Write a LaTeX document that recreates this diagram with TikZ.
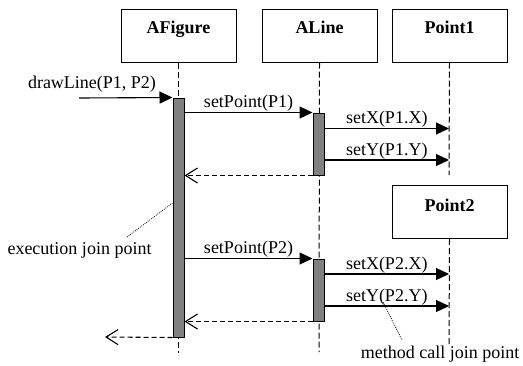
\documentclass[tikz,border=0pt]{standalone}
\usepackage{fontspec}
\setmainfont{Liberation Serif}
\usetikzlibrary{arrows.meta}
\begin{document}
\begin{tikzpicture}[x=1bp,y=-1bp,
  font=\fontsize{18bp}{20bp}\selectfont,
  objbox/.style={draw,line width=1bp,minimum width=115bp,minimum height=53bp,inner sep=0},
  objname/.style={font=\fontsize{18bp}{20bp}\selectfont\bfseries,anchor=base,inner sep=0},
  lifeline/.style={line width=1bp,dash pattern=on 6bp off 3bp},
  activation/.style={draw,fill=black!50,line width=1bp,minimum width=11bp,inner sep=0},
  call/.style={line width=1.1bp,-{Triangle[length=13bp,width=12bp]}},
  reply/.style={line width=1.1bp,dash pattern=on 5bp off 3bp,-{Straight Barb[length=12bp,width=15bp,line width=1.1bp]}},
  msg/.style={above,inner sep=0.6bp},
  note/.style={line width=0.7bp,dash pattern=on 0.9bp off 1.1bp}
]
\useasboundingbox (0,0) rectangle (523,365);

% object boxes
\node[objbox] (fig) at (178.5,35.5) {};
\node[objbox] (line) at (319.5,35.5) {};
\node[objbox] (pta) at (449.5,35.5) {};
\node[objbox] (ptb) at (449.5,212) {};
\node[objname] (figname) at (178.5,33.5) {AFigure};
\node[objname] (linename) at (319.5,33.5) {ALine};
\node[objname] (ptaname) at (449.5,33.5) {Point1};
\node[objname] (ptbname) at (449.5,211.5) {Point2};

% lifeline ends
\coordinate (figend) at (178.5,353);
\coordinate (lineend) at (319,352);
\coordinate (ptaend) at (449,175);
\coordinate (ptbend) at (449,347);
\draw[lifeline] (fig.south) -- (figend);
\draw[lifeline] (line.south) -- (lineend);
\draw[lifeline] (pta.south) -- (ptaend);
\draw[lifeline] (ptb.south) -- (ptbend);

% activation bars
\node[activation,minimum height=239bp] (actA) at (178.5,217.5) {};
\node[activation,minimum height=62bp] (actB) at (318.5,144) {};
\node[activation,minimum height=62bp] (actC) at (318.5,290) {};

% incoming call
\coordinate (caller) at (79,98);
\draw[call] (caller) -- (actA.north west);
\node[inner sep=0,anchor=base] (drawlbl) at (92,88.5) {drawLine(P1, P2)};

% first point
\draw[call] (actA.east |- actB.north west) -- node[msg] {setPoint(P1)} (actB.north west);
\coordinate (sx1) at (449,128.5);
\coordinate (sy1) at (449,160);
\draw[call] (actB.east |- sx1) -- node[msg] {setX(P1.X)} (sx1);
\draw[call] (actB.east |- sy1) -- node[msg] {setY(P1.Y)} (sy1);
\draw[reply] (actB.south west) -- (actA.east |- actB.south west);

% second point
\draw[call] (actA.east |- actC.north west) -- node[msg] {setPoint(P2)} (actC.north west);
\coordinate (sx2) at (449,274);
\coordinate (sy2) at (449,306);
\draw[call] (actC.east |- sx2) -- node[msg] {setX(P2.X)} (sx2);
\draw[call] (actC.east |- sy2) -- node[msg] {setY(P2.Y)} (sy2);
\draw[reply] (actC.south west) -- (actA.east |- actC.south west);

% return to caller
\coordinate (back) at (105,337);
\draw[reply] (actA.south west) -- (back);

% annotations
\node[inner sep=0] (execnote) at (79.5,250) {execution join point};
\coordinate (execfoot) at (127,237);
\draw[note] (execfoot) -- (actA.west |- 0,203);
\node[inner sep=0] (callnote) at (440,354) {method call join point};
\coordinate (callhead) at (383,302);
\coordinate (callfoot) at (402,340);
\draw[note] (callhead) -- (callfoot);
\end{tikzpicture}
\end{document}
